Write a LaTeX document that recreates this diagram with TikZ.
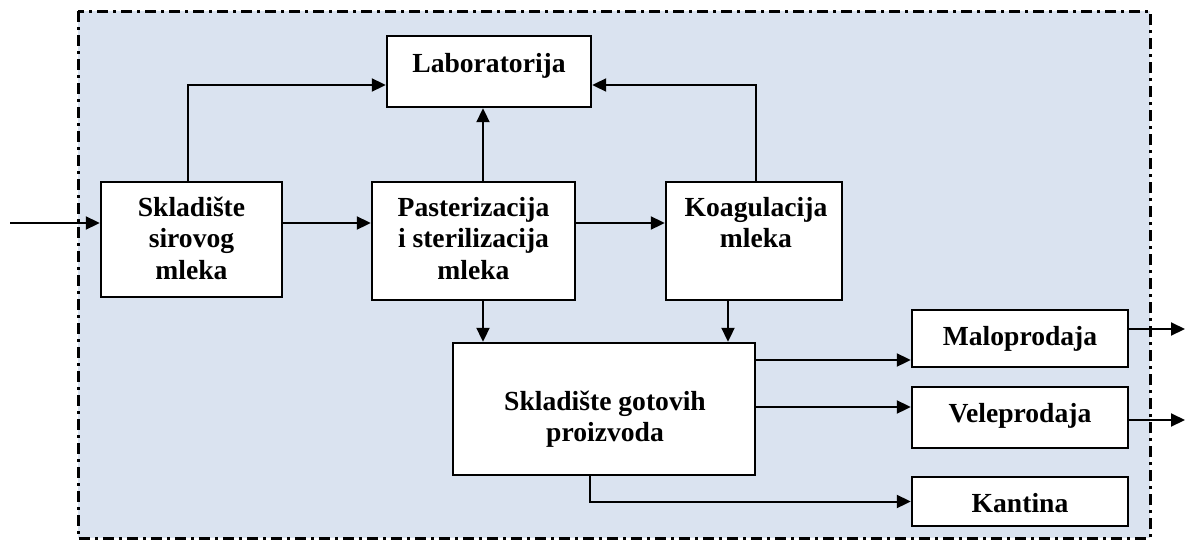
\documentclass[tikz,border=0pt]{standalone}
\usepackage{fontspec}
\setmainfont{Liberation Serif}
\usetikzlibrary{arrows.meta}
\definecolor{panelblue}{RGB}{218,227,240}
\tikzset{
  procbox/.style={draw=black, fill=white, line width=2.4pt, rectangle, inner sep=0pt},
  boxtext/.style={font=\bfseries\fontsize{27.6}{31.5}\selectfont, align=center, anchor=base, inner sep=0pt},
  flow/.style={line width=2pt, -{Triangle[length=14pt,width=13pt]}},
  frame/.style={line width=3pt, fill=panelblue, dash pattern=on 11pt off 5pt on 3pt off 5pt}
}
\begin{document}
\begin{tikzpicture}[x=1pt,y=-1pt]
\useasboundingbox (0,0) rectangle (1190,546);

% system boundary
\draw[frame] (78,11) rectangle (1150,538);

% process boxes
\node[procbox, minimum width=204pt, minimum height=71pt]  (lab)  at (489,71.5)   {};
\node[procbox, minimum width=181pt, minimum height=115pt] (sir)  at (191.5,239.5) {};
\node[procbox, minimum width=203pt, minimum height=118pt] (past) at (473.5,241)  {};
\node[procbox, minimum width=176pt, minimum height=118pt] (koag) at (754,241)    {};
\node[procbox, minimum width=302pt, minimum height=132pt] (got)  at (604,409)    {};
\node[procbox, minimum width=216pt, minimum height=57pt]  (malo) at (1020,338.5) {};
\node[procbox, minimum width=216pt, minimum height=61pt]  (vele) at (1020,417.5) {};
\node[procbox, minimum width=216pt, minimum height=49pt]  (kant) at (1020,501.5) {};

% labels (base = baseline of the last line)
\node[boxtext] (labT)  at (489,72)    {Laboratorija};
\node[boxtext] (sirT)  at (191.5,279) {Skladište\\sirovog\\mleka};
\node[boxtext] (pastT) at (473.5,279) {Pasterizacija\\i sterilizacija\\mleka};
\node[boxtext] (koagT) at (756,247.5) {Koagulacija\\mleka};
\node[boxtext] (gotT)  at (605,441.5) {Skladište gotovih\\proizvoda};
\node[boxtext] (maloT) at (1020,345)  {Maloprodaja};
\node[boxtext] (veleT) at (1020,422)  {Veleprodaja};
\node[boxtext] (kantT) at (1020,512)  {Kantina};

% free ends
\coordinate (inp)     at (10,223);
\coordinate (maloOut) at (1185,329);
\coordinate (veleOut) at (1185,420);

% main line
\draw[flow] (inp) -- (inp -| sir.west);
\draw[flow] (sir.east |- inp) -- (past.west |- inp);
\draw[flow] (past.east |- inp) -- (koag.west |- inp);

% to the laboratory
\draw[flow] ([xshift=-3.5pt]sir.north) |- ([yshift=-13.5pt]lab.west);
\draw[flow] ([xshift=2pt]koag.north) |- ([yshift=-13.5pt]lab.east);
\draw[flow] ([xshift=9.5pt]past.north) -- ([xshift=9.5pt]past.north |- lab.south);

% to the finished goods store
\draw[flow] ([xshift=9.5pt]past.south) -- ([xshift=9.5pt]past.south |- got.north);
\draw[flow] ([xshift=-26pt]koag.south) -- ([xshift=-26pt]koag.south |- got.north);

% distribution
\draw[flow] ([yshift=-21.5pt]malo.west -| got.east) -- ([yshift=-21.5pt]malo.west);
\draw[flow] ([yshift=10.5pt]vele.west -| got.east) -- ([yshift=10.5pt]vele.west);
\draw[flow] ([xshift=-14pt]got.south) |- (kant.west);

% outputs
\draw[flow] ([yshift=9.5pt]malo.east) -- (maloOut);
\draw[flow] ([yshift=-2.5pt]vele.east) -- (veleOut);
\end{tikzpicture}
\end{document}
